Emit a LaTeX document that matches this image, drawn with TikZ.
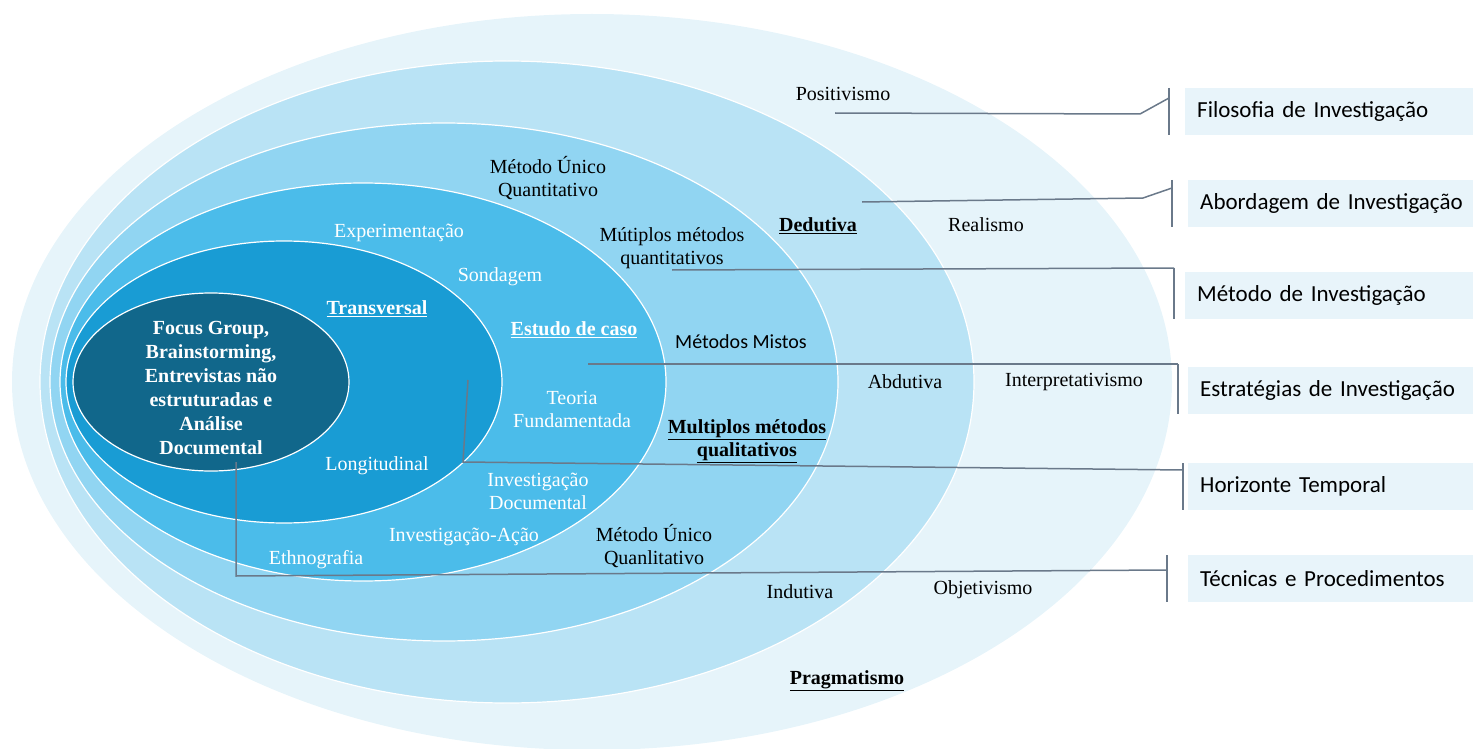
\documentclass[tikz,border=0pt]{standalone}
\usepackage{fontspec}
\setmainfont{Liberation Serif}
\newfontfamily\calibri{Carlito}
\usetikzlibrary{positioning}
\definecolor{ringa}{HTML}{E6F4FA}
\definecolor{ringb}{HTML}{B9E3F5}
\definecolor{ringc}{HTML}{91D5F2}
\definecolor{ringd}{HTML}{4BBCEA}
\definecolor{ringe}{HTML}{199CD4}
\definecolor{ringf}{HTML}{11678B}
\definecolor{boxfill}{HTML}{E8F4FA}
\definecolor{leadline}{HTML}{6A798A}

\begin{document}
\begin{tikzpicture}[x=1pt, y=-1pt,
                    ring/.style={draw=white, line width=1.2pt},
                    dark/.style={text=black, align=center, yshift=-2pt, font=\fontsize{20}{23}\selectfont},
                    light/.style={dark, text=white},
                    lead/.style={draw=leadline, line width=1.5pt},
                    layer/.style={fill=boxfill, anchor=north west, minimum height=47pt,
                                  inner xsep=12pt, text width=270pt, align=left,
                                  font=\calibri\fontsize{23}{27}\selectfont}]
    \useasboundingbox (0,0) rectangle (1473,749);
    \fill[ringa] (592,382) ellipse [x radius=580pt, y radius=368pt];
    \path[ring, fill=ringb] (507,382) ellipse [x radius=467pt, y radius=321pt];
    \path[ring, fill=ringc] (444,382) ellipse [x radius=394pt, y radius=259pt];
    \path[ring, fill=ringd] (363,382) ellipse [x radius=303pt, y radius=199pt];
    \path[ring, fill=ringe] (284,382) ellipse [x radius=218pt, y radius=141pt];
    \path[ring, fill=ringf] (211,382) ellipse [x radius=138pt, y radius=89pt];

    \node[dark] (positivismo) at (843,92) {Positivismo};
    \node[dark] (realismo) at (986,223) {Realismo};
    \node[dark] (interpretativismo) at (1074,380) {Interpretativismo};
    \node[dark] (objetivismo) at (983,588) {Objetivismo};
    \node[dark] (pragmatismo) at (847,679) {\textbf{\underline{Pragmatismo}}};
    \node[dark] (dedutiva) at (818,224) {\textbf{\underline{Dedutiva}}};
    \node[dark] (abdutiva) at (905,380) {Abdutiva};
    \node[dark] (indutiva) at (800,590) {Indutiva};
    \node[dark] (unicoquant) at (548,176) {Método Único\\Quantitativo};
    \node[dark] (multquant) at (672,246) {Mútiplos métodos\\quantitativos};
    \node[dark, font=\calibri\fontsize{20}{24}\selectfont] (mistos) at (741,340) {Métodos Mistos};
    \node[dark] (multqual) at (747,439) {\textbf{\underline{Multiplos métodos}}\\\textbf{\underline{qualitativos}}};
    \node[dark] (unicoqual) at (654,544) {Método Único\\Quanlitativo};
    \node[light] (experimentacao) at (399,231) {Experimentação};
    \node[light] (sondagem) at (500,275) {Sondagem};
    \node[light] (estudo) at (574,328) {\textbf{\underline{Estudo de caso}}};
    \node[light] (teoria) at (572,407) {Teoria\\Fundamentada};
    \node[light] (documental) at (538,489) {Investigação\\Documental};
    \node[light] (acao) at (464,535) {Investigação-Ação};
    \node[light] (ethnografia) at (316,558) {Ethnografia};
    \node[light] (transversal) at (377,307) {\textbf{\underline{Transversal}}};
    \node[light] (longitudinal) at (377,464) {Longitudinal};
    \node[light, font=\bfseries\fontsize{20}{24}\selectfont] (tecnicas) at (211,386)
        {Focus Group,\\Brainstorming,\\Entrevistas não\\estruturadas e\\Análise\\Documental};

    \node[layer] (filosofia) at (1185,88) {Filosofia de Investigação};
    \node[layer] (abordagem) at (1188,180) {Abordagem de Investigação};
    \node[layer] (metodo) at (1185,272) {Método de Investigação};
    \node[layer] (estrategias) at (1188,367) {Estratégias de Investigação};
    \node[layer] (horizonte) at (1188,463) {Horizonte Temporal};
    \node[layer] (procedimentos) at (1188,555) {Técnicas e Procedimentos};

    \coordinate (fa) at (835,113);
    \coordinate (fb) at (1140,114);
    \coordinate (fc) at (1169,98);
    \coordinate (ba) at (862,202);
    \coordinate (bb) at (1143,198);
    \coordinate (bc) at (1172,188);
    \coordinate (ma) at (672,270);
    \coordinate (mb) at (1174,268);
    \coordinate (ea) at (588,364);
    \coordinate (eb) at (1178,364);
    \coordinate (ha) at (468,380);
    \coordinate (hb) at (463,462);
    \coordinate (hc) at (1183,470);
    \coordinate (ta) at (236,462);
    \coordinate (tb) at (236,576);
    \coordinate (tc) at (1167,570);

    \draw[lead] (fa) -- (fb) -- (fc);
    \draw[lead] (fc |- filosofia.north) -- (fc |- filosofia.south);
    \draw[lead] (ba) -- (bb) -- (bc);
    \draw[lead] (bc |- abordagem.north) -- (bc |- abordagem.south);
    \draw[lead] (ma) -- (mb);
    \draw[lead] (mb) -- (mb |- metodo.south);
    \draw[lead] (ea) -- (eb);
    \draw[lead] (eb) -- (eb |- estrategias.south);
    \draw[lead] (ha) -- (hb) -- (hc);
    \draw[lead] (hc |- horizonte.north) -- (hc |- horizonte.south);
    \draw[lead] (ta) -- (tb) -- (tc);
    \draw[lead] (tc |- procedimentos.north) -- (tc |- procedimentos.south);
\end{tikzpicture}
\end{document}
